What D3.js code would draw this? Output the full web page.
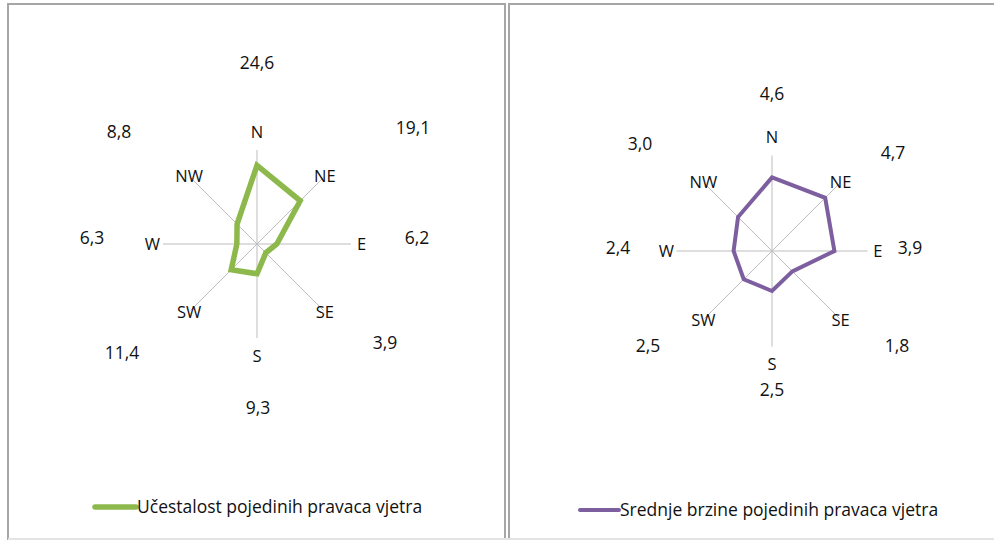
<!DOCTYPE html>
<html>
<head>
<meta charset="utf-8">
<script src="https://cdn.jsdelivr.net/npm/d3@7"></script>
<style>
	body { margin: 0; background: #fff; }
	svg { display: block; font-family: "Open Sans", sans-serif; }
</style>
</head>
<body>
<svg id="chart" width="994" height="541"></svg>
<script>
// wind directions, clockwise from north
const directions = ["N", "NE", "E", "SE", "S", "SW", "W", "NW"];
// frequency of each wind direction (%)
const frequency = [24.6, 19.1, 6.2, 3.9, 9.3, 11.4, 6.3, 8.8];
// mean speed of each wind direction (m/s)
const speed = [4.6, 4.7, 3.9, 1.8, 2.5, 2.5, 2.4, 3.0];

const frequencyName = "Učestalost pojedinih pravaca vjetra";
const speedName = "Srednje brzine pojedinih pravaca vjetra";

// labels were dragged by hand in the original, so they are kept as offsets from the centre
const freqLabelOffsets = [[0, -181], [156, -116], [160, -6], [128, 99], [1, 164], [-135, 109], [-165, -6], [-138, -112]];
const speedLabelOffsets = [[0, -157], [121, -98], [138, -3], [125, 95], [0, 139], [-124, 95], [-154, -3], [-132, -107]];

const comma = d3.formatLocale({ decimal: ",", thousands: ".", grouping: [3], currency: ["", ""] }).format(".1f");

const svg = d3.select("#chart");

// panel frames
svg.append("rect")
	.attr("x", 8).attr("y", 4).attr("width", 497).attr("height", 535)
	.attr("fill", "none").attr("stroke", "#a6a6a6").attr("stroke-width", 2);
svg.append("rect")
	.attr("x", 509).attr("y", 4).attr("width", 500).attr("height", 535)
	.attr("fill", "none").attr("stroke", "#a6a6a6").attr("stroke-width", 2);
svg.append("line")
	.attr("x1", 8).attr("x2", 994).attr("y1", 539).attr("y2", 539)
	.attr("stroke", "#e4e4e4").attr("stroke-width", 2);

function drawRadar (cfg) {
	const g = svg.append("g").attr("transform", "translate(" + cfg.cx + "," + cfg.cy + ")");

	const r = d3.scaleLinear().domain([0, cfg.max]).range([0, cfg.radius]);
	const step = 2 * Math.PI / directions.length;
	const a = (d, i) => i * step;

	// spokes
	g.selectAll("line.spoke")
		.data(directions)
		.join("line")
		.attr("class", "spoke")
		.attr("x1", 0).attr("y1", 0)
		.attr("x2", (d, i) => Math.sin(a(d, i)) * cfg.axisLen)
		.attr("y2", (d, i) => -Math.cos(a(d, i)) * cfg.axisLen)
		.attr("stroke", "#bdbdbd")
		.attr("stroke-width", 1);

	// direction names
	g.selectAll("text.dir")
		.data(directions)
		.join("text")
		.attr("class", "dir")
		.attr("x", (d, i) => {
			const s = Math.sin(a(d, i));
			return s * cfg.dirR * (Math.abs(s) > 0.9 ? 1.09 : 1);
		})
		.attr("y", (d, i) => -Math.cos(a(d, i)) * cfg.dirR * (Math.abs(Math.cos(a(d, i))) > 0.9 ? 1.17 : 1))
		.attr("dy", "0.36em")
		.attr("text-anchor", "middle")
		.style("font-size", "16.5px")
		.attr("fill", "#111")
		.text(d => d);

	// the series polygon
	const line = d3.lineRadial()
		.angle((d, i) => a(d, i))
		.radius(d => r(d))
		.curve(d3.curveLinearClosed);

	g.append("path")
		.datum(cfg.values)
		.attr("d", line)
		.attr("fill", "none")
		.attr("stroke", cfg.color)
		.attr("stroke-width", cfg.width)
		.attr("stroke-linejoin", "miter");

	// value labels
	g.selectAll("text.val")
		.data(cfg.values)
		.join("text")
		.attr("class", "val")
		.attr("x", (d, i) => cfg.labelOffsets[i][0])
		.attr("y", (d, i) => cfg.labelOffsets[i][1])
		.attr("dy", "0.36em")
		.attr("text-anchor", "middle")
		.style("font-size", "17.5px")
		.attr("fill", "#111")
		.text(d => comma(d));

	// legend
	const lg = svg.append("g").attr("transform", "translate(" + cfg.legendX + "," + cfg.legendY + ")");
	lg.append("line")
		.attr("x1", 0).attr("x2", cfg.legendLen)
		.attr("stroke", cfg.color)
		.attr("stroke-width", cfg.width)
		.attr("stroke-linecap", "round");
	lg.append("text")
		.attr("x", cfg.legendLen + 1)
		.attr("dy", "0.36em")
		.style("font-size", "17.5px")
		.attr("fill", "#111")
		.text(cfg.name);
}

drawRadar({
	cx: 257, cy: 244, radius: 96, axisLen: 94, max: 30, dirR: 96,
	values: frequency, labelOffsets: freqLabelOffsets,
	color: "#8db94c", width: 5.5,
	name: frequencyName, legendX: 95, legendY: 507, legendLen: 41
});

drawRadar({
	cx: 772, cy: 251, radius: 96, axisLen: 95.5, max: 6, dirR: 97,
	values: speed, labelOffsets: speedLabelOffsets,
	color: "#7d5fa0", width: 4,
	name: speedName, legendX: 580, legendY: 510, legendLen: 39
});
</script>
</body>
</html>
